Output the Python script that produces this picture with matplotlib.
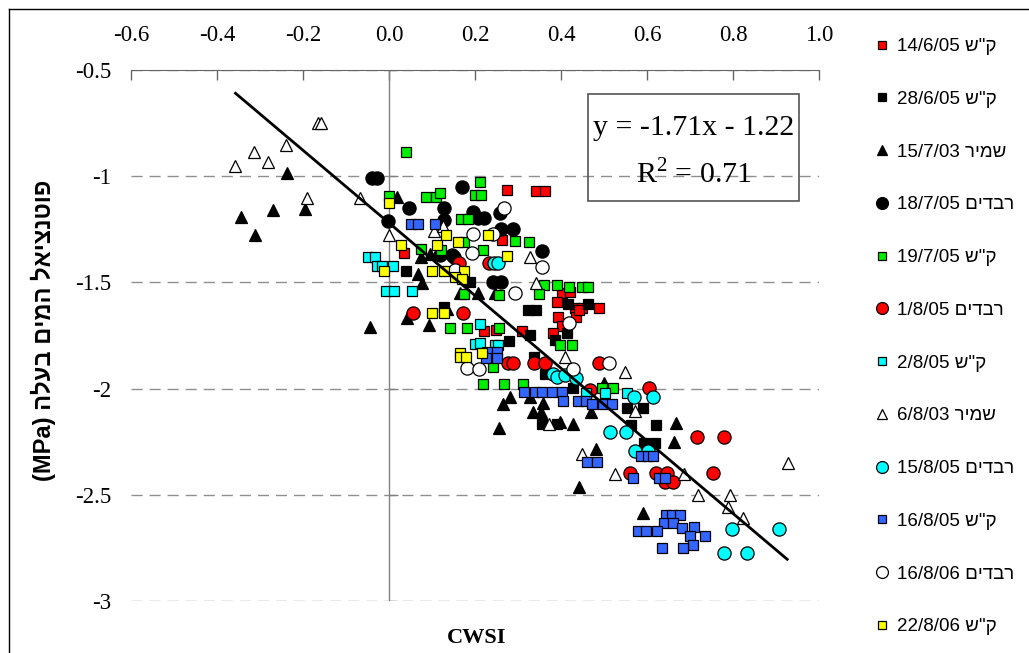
import numpy as np
import matplotlib.pyplot as plt
from matplotlib.lines import Line2D
from matplotlib.patches import Rectangle

plt.rcParams['font.family'] = ['Liberation Serif', 'DejaVu Serif']
plt.rcParams['mathtext.fontset'] = 'custom'
plt.rcParams['mathtext.rm'] = 'Liberation Serif'

W, H = 1029, 653

# ---- data (CWSI, leaf water potential MPa) ----
# ק"ש 14/6/05
x_1406 = [0.274, 0.343, 0.362, 0.036, 0.262, 0.402, 0.422, 0.39, 0.432, 0.448, 0.488, 0.392, 0.434,
          0.402, 0.381, 0.309, 0.222, 0.248, 0.443]
y_1406 = [-1.065, -1.07, -1.07, -1.36, -1.30, -1.55, -1.545, -1.59, -1.62, -1.62, -1.62, -1.665, -1.665,
          -1.705, -1.74, -1.73, -1.73, -1.725, -1.63]
# ק"ש 28/6/05
x_2806 = [0.039, 0.129, 0.188, 0.323, 0.343, 0.416, 0.462, 0.327, 0.413, 0.278, 0.385, 0.337, 0.362,
          0.427, 0.355, 0.39, 0.553, 0.59, 0.562, 0.622, 0.592, 0.618]
y_2806 = [-1.447, -1.616, -1.498, -1.63, -1.63, -1.602, -1.602, -1.748, -1.738, -1.776, -1.771, -1.851, -1.931,
          -1.997, -2.167, -2.167, -2.091, -2.091, -2.171, -2.171, -2.256, -2.256]
# שמיר 15/7/03
x_1507 = [-0.237, -0.345, -0.312, -0.27, -0.196, 0.018, -0.045, 0.067, 0.076, 0.095, 0.074, 0.164, 0.206,
          0.246, 0.136, 0.043, 0.092, 0.281, 0.327, 0.264, 0.357, 0.334, 0.353, 0.397, 0.427, 0.255,
          0.499, 0.469, 0.667, 0.662, 0.481, 0.443, 0.59]
y_1507 = [-0.985, -1.192, -1.277, -1.159, -1.154, -1.098, -1.71, -1.46, -1.503, -1.366, -1.38, -1.55, -1.55,
          -1.55, -1.625, -1.668, -1.70, -2.04, -2.04, -2.073, -2.068, -2.11, -2.11, -2.157, -2.167, -2.186,
          -1.974, -2.11, -2.162, -2.251, -2.284, -2.463, -2.586]
# רבדים 18/7/05
x_1807 = [-0.04, -0.029, 0.046, -0.003, 0.127, 0.129, 0.169, 0.195, 0.206, 0.22, 0.257, 0.26, 0.288,
          0.355, 0.118, 0.146, 0.15, 0.241, 0.26]
y_1807 = [-1.008, -1.008, -1.15, -1.211, -1.206, -1.15, -1.051, -1.169, -1.197, -1.197, -1.173, -1.249, -1.249,
          -1.352, -1.371, -1.371, -1.38, -1.498, -1.498]
# ק"ש 19/7/05
x_1907 = [0.039, 0.0, 0.085, 0.109, 0.118, 0.211, 0.199, 0.213, 0.167, 0.183, 0.174, 0.292, 0.325, 0.074,
          0.122, 0.218, 0.36, 0.39, 0.418, 0.448, 0.462, 0.348, 0.174, 0.255, 0.143, 0.181, 0.255, 0.397,
          0.425, 0.241, 0.218, 0.267, 0.311, 0.495, 0.52]
y_1907 = [-0.886, -1.093, -1.098, -1.098, -1.079, -1.027, -1.089, -1.089, -1.202, -1.202, -1.31, -1.305, -1.31,
          -1.343, -1.347, -1.347, -1.512, -1.512, -1.522, -1.522, -1.522, -1.555, -1.555, -1.559, -1.715,
          -1.715, -1.715, -1.795, -1.795, -1.898, -1.978, -1.978, -1.978, -1.997, -1.997]
# רבדים 1/8/05
x_0108 = [0.055, 0.171, 0.162, 0.232, 0.276, 0.288, 0.337, 0.362, 0.488, 0.467, 0.604, 0.716, 0.778,
          0.56, 0.622, 0.646, 0.643, 0.66, 0.753]
y_0108 = [-1.644, -1.644, -1.409, -1.409, -1.88, -1.88, -1.88, -1.88, -1.88, -2.007, -1.997, -2.229, -2.229,
          -2.398, -2.398, -2.398, -2.44, -2.44, -2.398]
# ק"ש 2/8/05
x_0208 = [-0.05, -0.033, -0.029, -0.017, 0.009, -0.008, 0.011, 0.053, 0.211, 0.199, 0.211, 0.246, 0.253,
          0.458, 0.502, 0.553]
y_0208 = [-1.38, -1.38, -1.423, -1.423, -1.423, -1.54, -1.54, -1.54, -1.696, -1.79, -1.786, -1.795, -1.795,
          -2.021, -2.021, -2.021]
# שמיר 6/8/03
x_0608 = [-0.164, -0.157, -0.315, -0.24, -0.282, -0.357, -0.191, -0.068, -0.001, 0.104, 0.125, 0.327,
          0.343, 0.409, 0.548, 0.371, 0.571, 0.448, 0.525, 0.685, 0.718, 0.792, 0.788, 0.823, 0.927]
y_0608 = [-0.75, -0.75, -0.886, -0.853, -0.933, -0.952, -1.103, -1.103, -1.277, -1.258, -1.234, -1.38,
          -1.503, -1.851, -1.922, -2.167, -2.105, -2.308, -2.402, -2.402, -2.501, -2.501, -2.558, -2.61, -2.351]
# רבדים 15/8/05
x_1508 = [0.244, 0.253, 0.381, 0.39, 0.409, 0.435, 0.569, 0.613, 0.513, 0.55, 0.571, 0.602, 0.797,
          0.908, 0.778, 0.832]
y_1508 = [-1.409, -1.409, -1.931, -1.946, -1.936, -1.95, -2.04, -2.04, -2.204, -2.204, -2.294, -2.294,
          -2.661, -2.661, -2.774, -2.774]
# ק"ש 16/8/05
x_1608 = [0.05, 0.067, 0.106, 0.227, 0.25, 0.25, 0.225, 0.313, 0.339, 0.355, 0.379, 0.402, 0.404, 0.439,
          0.458, 0.472, 0.497, 0.518, 0.585, 0.602, 0.613, 0.46, 0.483, 0.567, 0.627, 0.641, 0.644, 0.658,
          0.676, 0.639, 0.66, 0.579, 0.597, 0.623, 0.681, 0.709, 0.699, 0.734, 0.706, 0.634, 0.683]
y_1608 = [-1.225, -1.225, -1.225, -1.828, -1.828, -1.856, -1.856, -2.016, -2.016, -2.016, -2.016, -2.016,
          -2.058, -2.058, -2.058, -2.073, -2.073, -2.073, -2.318, -2.318, -2.318, -2.346, -2.346, -2.422,
          -2.422, -2.422, -2.596, -2.596, -2.596, -2.633, -2.633, -2.671, -2.671, -2.671, -2.657, -2.652,
          -2.694, -2.694, -2.737, -2.751, -2.751]
# רבדים 16/8/06
x_1606 = [0.267, 0.195, 0.241, 0.355, 0.192, 0.153, 0.292, 0.418, 0.181, 0.209, 0.427, 0.511]
y_1606 = [-1.15, -1.272, -1.272, -1.428, -1.362, -1.442, -1.55, -1.691, -1.903, -1.908, -1.908, -1.88]
# ק"ש 22/8/06
x_2208 = [0.0, 0.029, -0.012, 0.111, 0.132, 0.16, 0.23, 0.274, 0.101, 0.129, 0.174, 0.153, 0.169, 0.099,
          0.129, 0.164, 0.164, 0.178, 0.216]
y_2208 = [-1.126, -1.324, -1.446, -1.324, -1.277, -1.31, -1.277, -1.376, -1.446, -1.446, -1.446, -1.475,
          -1.484, -1.644, -1.644, -1.832, -1.851, -1.851, -1.832]

sites = ['ק"ש', 'ק"ש', 'שמיר', 'רבדים', 'ק"ש', 'רבדים', 'ק"ש', 'שמיר', 'רבדים', 'ק"ש', 'רבדים', 'ק"ש']
dates = ['14/6/05', '28/6/05', '15/7/03', '18/7/05', '19/7/05', '1/8/05', '2/8/05', '6/8/03',
         '15/8/05', '16/8/05', '16/8/06', '22/8/06']

slope, intercept, r2 = -1.71, -1.22, 0.71
fit_x = np.array([-0.357, 0.926])

xticks = [-0.6, -0.4, -0.2, 0.0, 0.2, 0.4, 0.6, 0.8, 1.0]
yticks = [-0.5, -1, -1.5, -2, -2.5, -3]

# marker styles per series
styles = [
    ('s', '#ff0000', 6.8), ('s', '#000000', 6.8), ('^', '#000000', 8.5), ('o', '#000000', 9.5),
    ('s', '#00ee00', 6.8), ('o', '#ff0000', 9.5), ('s', '#00ffff', 6.8), ('^', '#ffffff', 8.5),
    ('o', '#00ffff', 9.5), ('s', '#3366ff', 6.8), ('o', '#ffffff', 9.5), ('s', '#ffff00', 6.8),
]
series = [(x_1406, y_1406), (x_2806, y_2806), (x_1507, y_1507), (x_1807, y_1807), (x_1907, y_1907),
          (x_0108, y_0108), (x_0208, y_0208), (x_0608, y_0608), (x_1508, y_1508), (x_1608, y_1608),
          (x_1606, y_1606), (x_2208, y_2208)]


def rtl(site, date):
    # matplotlib has no bidi support: write Hebrew in visual order
    return f'{date} {site[::-1]}'


fig = plt.figure(figsize=(W / 100, H / 100), dpi=100)
ax = fig.add_axes([131 / W, 1 - 601 / H, 688 / W, 531 / H])
ax.set_xlim(-0.6, 1.0)
ax.set_ylim(-3, -0.5)

for s in ['left', 'right', 'bottom']:
    ax.spines[s].set_visible(False)
ax.spines['top'].set_color('#666666')
ax.xaxis.tick_top()
ax.set_xticks(xticks)
ax.set_xticklabels([f'{v:.1f}' for v in xticks])
ax.tick_params(axis='x', direction='in', length=7, width=1, colors='#666666',
               labelcolor='black', pad=17, labelsize=16.5)
ax.set_yticks(yticks)
ax.set_yticklabels([f'{v:g}' for v in yticks])
ax.tick_params(axis='y', length=0, pad=14, labelsize=16.5)
ax.grid(axis='y', linestyle=(0, (8, 5)), color='#8f8f8f', lw=1)
ax.set_axisbelow(True)
ax.axvline(0, color='#808080', lw=1, zorder=1)
ax.hlines(yticks, 0, 0.021, color='#808080', lw=1, zorder=1)

handles = []
for (xs, ys), (m, c, ms), site, date in zip(series, styles, sites, dates):
    ax.plot(xs, ys, ls='none', marker=m, ms=ms, mfc=c, mec='black', mew=0.9, zorder=3)
    handles.append(Line2D([], [], ls='none', marker=m, ms=ms * 0.9, mfc=c, mec='black', mew=0.9,
                          label=rtl(site, date)))

ax.plot(fit_x, slope * fit_x + intercept, color='black', lw=2, zorder=4)

# equation box
fig.add_artist(Rectangle((588 / W, 1 - 201 / H), 211 / W, 107 / H, transform=fig.transFigure,
                         fill=False, ec='#555555', lw=1.2))
fig.text(693.5 / W, 1 - 128 / H, f'y = {slope:.2f}x - {abs(intercept):.2f}', ha='center', va='center',
         fontsize=21.5)
fig.text(693.5 / W, 1 - 174 / H, r'R$^{\mathregular{2}}$' + f' = {r2:.2f}', ha='center', va='center',
         fontsize=21.5)

fig.legend(handles=handles, loc='upper left', bbox_to_anchor=(874 / W, 1 - 38 / H), frameon=False,
           prop={'family': ['Liberation Sans', 'DejaVu Sans'], 'size': 13.5}, labelspacing=1.9,
           handlelength=0.8, handletextpad=0.45, borderpad=0, borderaxespad=0)

ylab = 'פוטנציאל המים בעלה'
fig.text(43 / W, 1 - 330 / H, '(MPa) ' + ylab[::-1], rotation=90, ha='center', va='center',
         fontsize=17, fontweight='bold', family=['Liberation Sans', 'DejaVu Sans'])
fig.text(477 / W, 1 - 638 / H, 'CWSI', ha='center', va='center', fontsize=16, fontweight='bold')

# outer frame (only left and top edges visible)
fig.add_artist(Line2D([9 / W, 9 / W], [0, 1 - 9 / H], color='black', lw=1))
fig.add_artist(Line2D([9 / W, 1], [1 - 9 / H, 1 - 9 / H], color='black', lw=1))

fig.savefig('out.png', dpi=100)
